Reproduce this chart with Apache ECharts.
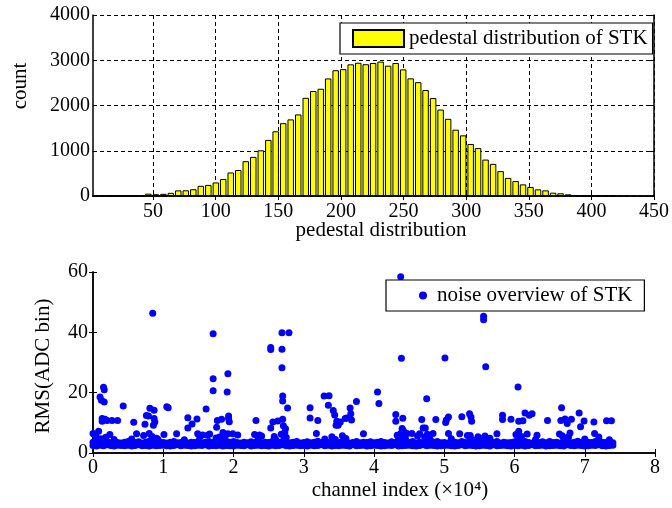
<!DOCTYPE html>
<html>
<head>
<meta charset="utf-8">
<script src="https://cdn.jsdelivr.net/npm/echarts@6/dist/echarts.min.js"></script>
<style>html,body{margin:0;padding:0;background:#fff;}#c{width:672px;height:508px;}</style>
</head>
<body>
<div id="c"></div>
<script>
// ---- top panel: histogram of pedestals ----
const binCenters = [4.3,10.3,16.3,22.3,28.2,34.2,40.2,46.2,52.2,58.2,64.2,70.1,76.1,82.1,88.1,94.1,100.1,106.0,112.0,118.0,124.0,130.0,136.0,142.0,147.9,153.9,159.9,165.9,171.9,177.9,183.9,189.8,195.8,201.8,207.8,213.8,219.8,225.7,231.7,237.7,243.7,249.7,255.7,261.7,267.6,273.6,279.6,285.6,291.6,297.6,303.6,309.5,315.5,321.5,327.5,333.5,339.5,345.4,351.4,357.4,363.4,369.4,375.4,381.4,387.3,393.3,399.3,405.3,411.3,417.3];
const binCounts = [2,2,3,4,6,10,18,51,40,48,70,124,126,150,225,245,300,375,520,575,770,865,1010,1240,1430,1610,1693,1803,2170,2320,2370,2598,2780,2803,2910,2945,2912,2940,2970,2880,2940,2798,2600,2515,2342,2165,1910,1705,1466,1340,1150,1060,805,710,550,400,330,257,200,147,125,73,60,37,20,10,6,4,3,2];
const topXTicks = [50,100,150,200,250,300,350,400,450];

// ---- bottom panel: noise (RMS) per channel, x in units of 10^4 ----
const bandX = [0.00,0.05,0.10,0.15,0.20,0.25,0.30,0.35,0.40,0.45,0.50,0.55,0.60,0.65,0.70,0.75,0.80,0.85,0.90,0.95,
1.00,1.05,1.10,1.15,1.20,1.25,1.30,1.35,1.40,1.45,1.50,1.55,1.60,1.65,1.70,1.75,1.80,1.85,1.90,1.95,
2.00,2.05,2.10,2.15,2.20,2.25,2.30,2.35,2.40,2.45,2.50,2.55,2.60,2.65,2.70,2.75,2.80,2.85,2.90,2.95,
3.00,3.05,3.10,3.15,3.20,3.25,3.30,3.35,3.40,3.45,3.50,3.55,3.60,3.65,3.70,3.75,3.80,3.85,3.90,3.95,
4.00,4.05,4.10,4.15,4.20,4.25,4.30,4.35,4.40,4.45,4.50,4.55,4.60,4.65,4.70,4.75,4.80,4.85,4.90,4.95,
5.00,5.05,5.10,5.15,5.20,5.25,5.30,5.35,5.40,5.45,5.50,5.55,5.60,5.65,5.70,5.75,5.80,5.85,5.90,5.95,
6.00,6.05,6.10,6.15,6.20,6.25,6.30,6.35,6.40,6.45,6.50,6.55,6.60,6.65,6.70,6.75,6.80,6.85,6.90,6.95,
7.00,7.05,7.10,7.15,7.20,7.25,7.30,7.35,7.40];
const bandLowY = [2.5,2.3,2.6,2.4,2.7,2.5,2.3,2.6,2.5,2.4,2.6,2.3,2.5,2.7,2.4,2.5,2.3,2.6,2.4,2.5,
2.6,2.4,2.3,2.5,2.7,2.4,2.6,2.5,2.3,2.4,2.6,2.5,2.7,2.3,2.5,2.4,2.6,2.3,2.5,2.4,
2.3,2.6,2.5,2.4,2.7,2.3,2.5,2.6,2.4,2.5,2.3,2.6,2.4,2.5,2.7,2.4,2.3,2.5,2.6,2.4,
2.5,2.3,2.6,2.4,2.5,2.7,2.4,2.6,2.3,2.5,2.4,2.6,2.5,2.3,2.7,2.4,2.5,2.6,2.3,2.4,
2.6,2.5,2.3,2.4,2.6,2.5,2.7,2.3,2.4,2.5,2.6,2.4,2.3,2.5,2.7,2.4,2.6,2.5,2.3,2.4,
2.5,2.6,2.4,2.3,2.5,2.7,2.4,2.6,2.5,2.3,2.4,2.6,2.5,2.3,2.7,2.4,2.5,2.6,2.4,2.3,
2.5,2.4,2.6,2.3,2.5,2.7,2.4,2.5,2.6,2.3,2.4,2.5,2.6,2.4,2.3,2.7,2.5,2.4,2.6,2.5,
2.3,2.4,2.6,2.5,2.7,2.4,2.3,2.5,2.6];
const bandHighY = [3.6,3.4,3.8,3.5,3.9,3.4,3.7,3.5,3.3,3.6,3.8,3.4,3.5,3.7,3.3,3.6,3.9,3.5,3.4,3.7,
3.5,3.3,3.6,3.8,3.4,3.5,3.7,3.3,3.6,3.5,3.9,3.4,3.6,3.8,3.5,3.3,3.7,3.5,3.4,3.6,
3.8,3.5,3.3,3.6,3.4,3.7,3.5,3.9,3.4,3.6,3.5,3.8,3.3,3.6,3.7,3.5,3.4,3.6,3.8,3.3,
3.5,3.7,3.4,3.6,3.9,3.5,3.3,3.6,3.8,3.4,3.5,3.7,3.6,3.3,3.5,3.8,3.4,3.6,3.5,3.7,
3.4,3.6,3.8,3.5,3.3,3.7,3.5,3.9,3.4,3.6,3.5,3.8,3.3,3.6,3.4,3.7,3.5,3.6,3.8,3.4,
3.5,3.3,3.7,3.6,3.4,3.8,3.5,3.6,3.3,3.9,3.5,3.4,3.7,3.6,3.5,3.8,3.3,3.6,3.4,3.5,
3.7,3.4,3.6,3.8,3.5,3.3,3.6,3.5,3.7,3.4,3.8,3.5,3.6,3.3,3.5,3.7,3.4,3.6,3.9,3.5,
3.4,3.6,3.5,3.8,3.3,3.6,3.5,3.7,3.4];
const outX = [0.00,0.02,0.08,0.10,0.12,0.13,0.13,0.14,0.15,0.16,0.16,0.17,0.20,0.24,0.27,0.35,0.43,0.58,0.62,0.74,0.76,0.79,0.81,0.85,0.87,0.87,0.86,0.88,0.80,1.01,1.05,1.07,1.19,1.35,1.35,1.41,1.48,1.49,1.56,1.61,1.66,1.71,1.71,1.71,1.77,1.76,1.83,1.85,1.92,1.91,1.93,1.93,1.94,1.92,1.99,2.06,2.32,2.30,2.37,2.53,2.53,2.53,2.56,2.63,2.69,2.79,2.69,2.69,2.70,2.70,2.77,2.70,2.71,2.74,2.73,3.09,3.09,3.20,3.18,3.29,3.36,3.35,3.42,3.44,3.46,3.49,3.47,3.59,3.61,3.66,3.67,3.68,3.75,3.52,3.85,4.05,4.07,4.31,4.31,4.39,4.38,4.41,4.40,4.38,4.42,4.47,4.54,4.65,4.68,4.70,4.73,4.75,4.76,4.84,4.88,5.01,5.02,5.03,5.06,5.06,5.22,5.25,5.36,5.38,5.39,5.37,5.56,5.56,5.59,5.75,5.83,5.83,5.95,6.05,6.06,6.06,6.12,6.15,6.21,6.25,6.18,6.32,6.47,6.67,6.66,6.72,6.75,6.81,6.92,6.94,6.99,6.79,6.64,7.13,7.14,7.31,7.38,
0.05,0.30,0.55,0.90,1.30,1.75,2.35,2.60,2.75,3.30,3.60,4.35,4.45,4.80,5.10,5.40,5.65,6.05,6.30,6.70,7.00,7.35,
0.04,0.18,0.72,0.84,1.52,1.63,1.80,2.40,2.58,2.68,3.40,3.55,4.33,4.43,4.62,4.72,5.33,5.48,5.58,6.02,6.10,6.68,6.77,7.20,0.11,0.92,1.88,2.72,3.45,4.36,5.55,6.08];
const outY = [6.5,6.1,7.2,18.6,17.5,11.4,10.5,11.0,21.8,21.0,16.9,11.2,10.8,6.1,10.8,10.8,15.6,10.2,6.4,9.5,12.4,12.3,14.8,46.3,14.2,11.4,9.2,10.3,6.5,6.1,15.3,15.0,6.4,11.7,8.3,9.6,11.3,6.4,6.0,14.6,6.3,39.5,24.6,20.6,10.8,8.5,11.2,6.8,26.3,20.2,12.3,11.4,10.4,6.4,6.4,6.0,10.8,6.1,6.0,35.0,34.3,8.3,10.3,10.6,39.9,39.9,34.4,28.3,18.9,17.2,14.9,11.2,9.0,8.0,6.8,15.0,11.6,10.8,6.5,18.9,19.0,15.8,14.1,12.6,9.2,9.2,10.5,11.4,11.6,14.9,13.0,10.9,17.1,10.3,6.4,20.2,16.4,12.8,10.5,31.4,58.4,11.5,8.1,6.5,7.3,6.5,6.5,6.4,11.1,8.3,8.3,18.0,6.2,6.5,11.1,31.5,10.1,10.9,11.9,6.5,6.4,12.0,13.0,11.9,10.5,5.8,45.3,44.2,28.6,6.4,12.5,11.1,11.2,21.9,10.5,7.2,10.7,13.3,12.5,13.0,6.3,5.9,10.8,15.0,10.8,11.3,9.8,11.2,13.3,8.7,10.6,6.6,6.3,10.3,6.5,10.7,10.7,
4.8,4.5,4.6,4.9,4.4,5.0,4.7,4.5,5.2,4.6,4.8,5.0,4.6,4.5,4.7,4.4,4.9,5.0,4.5,4.8,4.6,4.4,
5.6,5.2,5.8,5.5,5.4,5.9,5.3,5.6,5.5,6.2,5.4,5.7,5.9,5.5,5.6,5.3,5.8,5.4,5.6,6.1,5.5,5.7,5.4,5.3,4.7,4.6,4.9,4.8,4.5,4.7,4.8,4.6];

const FONT = "'Liberation Serif','Times New Roman',serif";
const histData = binCenters.map((c, i) => [c, binCounts[i]]);
const scatterData = [];
bandX.forEach((x, i) => { scatterData.push([x, bandLowY[i]]); scatterData.push([x, bandHighY[i]]); });
outX.forEach((x, i) => scatterData.push([x, outY[i]]));

const lineStyle = { color: '#000', width: 1.5 };
const tickIn = (extra) => Object.assign({ show: true, inside: true, length: 4, lineStyle: { color: '#000', width: 1 } }, extra || {});
const plain = (v) => String(v);
const labelStyle = (extra) => Object.assign({ color: '#000', fontFamily: FONT, fontSize: 20, formatter: plain }, extra || {});
const dash = { show: true, lineStyle: { color: '#000', type: [4, 3], width: 1 } };
const titleStyle = (text) => ({ text: text, fontFamily: FONT, fontSize: 21, fill: '#000', align: 'center', verticalAlign: 'middle', textAlign: 'center', textVerticalAlign: 'middle' });

const chart = echarts.init(document.getElementById('c'), null, { renderer: 'canvas' });
chart.setOption({
  animation: false,
  backgroundColor: '#fff',
  grid: [
    { left: 93, top: 15, width: 562, height: 181 },
    { left: 93, top: 272, width: 562, height: 181 }
  ],
  xAxis: [
    { gridIndex: 0, type: 'value', min: 2, max: 450, position: 'bottom',
      axisLine: { show: true, lineStyle: lineStyle },
      axisTick: tickIn({ customValues: topXTicks }),
      axisLabel: labelStyle({ customValues: topXTicks, margin: 6 }),
      splitLine: dash },
    { gridIndex: 0, type: 'value', min: 2, max: 450, position: 'top',
      axisLine: { show: true, lineStyle: lineStyle },
      axisTick: tickIn({ customValues: topXTicks }),
      axisLabel: { show: false }, splitLine: { show: false } },
    { gridIndex: 1, type: 'value', min: 0, max: 8, interval: 1, position: 'bottom',
      axisLine: { show: true, lineStyle: lineStyle },
      axisTick: tickIn(), axisLabel: labelStyle({ margin: 5 }), splitLine: { show: false } },
    { gridIndex: 1, type: 'value', min: 0, max: 8, interval: 1, position: 'top',
      axisLine: { show: true, lineStyle: lineStyle },
      axisTick: tickIn(), axisLabel: { show: false }, splitLine: { show: false } }
  ],
  yAxis: [
    { gridIndex: 0, type: 'value', min: 0, max: 4000, interval: 1000, position: 'left',
      axisLine: { show: true, lineStyle: lineStyle },
      axisTick: tickIn(), axisLabel: labelStyle({ margin: 3 }), splitLine: dash },
    { gridIndex: 0, type: 'value', min: 0, max: 4000, interval: 1000, position: 'right',
      axisLine: { show: true, lineStyle: lineStyle },
      axisTick: tickIn(), axisLabel: { show: false }, splitLine: { show: false } },
    { gridIndex: 1, type: 'value', min: 0, max: 60, interval: 20, position: 'left',
      axisLine: { show: true, lineStyle: lineStyle },
      axisTick: tickIn(), axisLabel: labelStyle({ margin: 5 }), splitLine: { show: false } },
    { gridIndex: 1, type: 'value', min: 0, max: 60, interval: 20, position: 'right',
      axisLine: { show: true, lineStyle: lineStyle },
      axisTick: tickIn(), axisLabel: { show: false }, splitLine: { show: false } }
  ],
  legend: [
    { data: [{ name: 'pedestal distribution of STK', icon: 'rect' }], left: 340, top: 23,
      orient: 'horizontal', itemWidth: 51, itemHeight: 17, padding: [5, 5, 5, 12],
      borderColor: '#000', borderWidth: 1.2, backgroundColor: '#fff',
      textStyle: { fontFamily: FONT, fontSize: 21, color: '#000' } },
    { data: [{ name: 'noise overview of STK', icon: 'circle' }], left: 386, top: 280,
      orient: 'horizontal', itemWidth: 8, itemHeight: 8, padding: [5, 12, 5, 33],
      borderColor: '#000', borderWidth: 1.2, backgroundColor: '#fff',
      textStyle: { fontFamily: FONT, fontSize: 21, color: '#000', padding: [0, 0, 0, 5] } }
  ],
  graphic: [
    { type: 'text', x: 20, y: 86, rotation: Math.PI / 2, style: titleStyle('count') },
    { type: 'text', x: 381, y: 230, style: titleStyle('pedestal distribution') },
    { type: 'text', x: 43, y: 366, rotation: Math.PI / 2, style: titleStyle('RMS(ADC bin)') },
    { type: 'text', x: 400, y: 490, style: titleStyle('channel index (\u00d710\u2074)') }
  ],
  series: [
    { name: 'pedestal distribution of STK', type: 'bar', xAxisIndex: 0, yAxisIndex: 0,
      data: histData, barWidth: 6.5,
      itemStyle: { color: '#ffff00', borderColor: '#000', borderWidth: 1 } },
    { name: 'noise overview of STK', type: 'scatter', xAxisIndex: 2, yAxisIndex: 2,
      data: scatterData, symbol: 'circle', symbolSize: 7,
      itemStyle: { color: '#0000ff', opacity: 1 } }
  ]
});
</script>
</body>
</html>
